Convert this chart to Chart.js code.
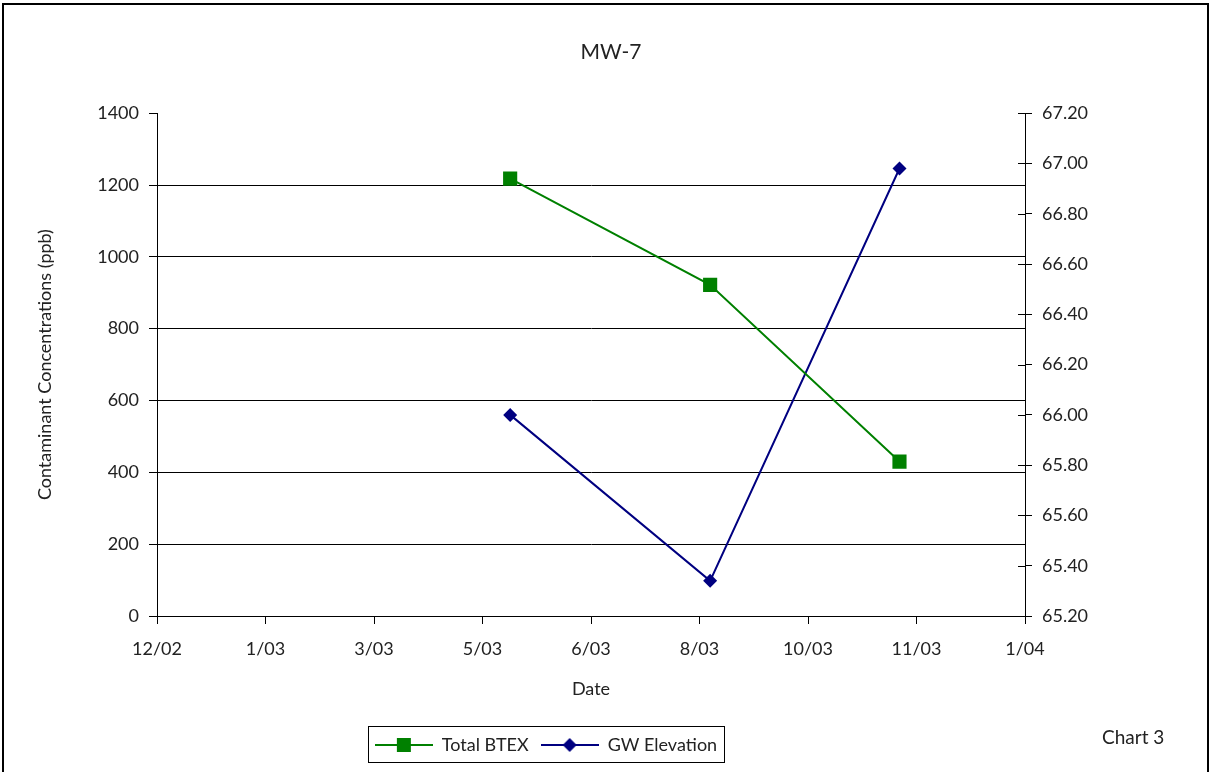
<!DOCTYPE html>
<html>
<head>
<meta charset="utf-8">
<script src="https://cdn.jsdelivr.net/npm/chart.js@4.4.1/dist/chart.umd.min.js"></script>
<style>
  html, body { margin: 0; padding: 0; background: #fff; }
</style>
</head>
<body>
<canvas id="mw7Chart" width="1212" height="772"></canvas>
<script>
// x axis: days counted from the first tick (12/02), one tick every 51 days
const xTickLabels = ["12/02", "1/03", "3/03", "5/03", "6/03", "8/03", "10/03", "11/03", "1/04"];
const tickStepDays = 51;
const sampleDays = [166, 260, 349];
const totalBtex = [1218, 922, 430];
const gwElevation = [66.00, 65.34, 66.98];

Chart.defaults.font.family = 'Lato, "DejaVu Sans", sans-serif';
Chart.defaults.color = '#222';

const green = '#008000';
const navy = '#000080';

// little line+marker pictures for the legend
const makeSwatch = (color, shape) => {
  const c = document.createElement('canvas');
  c.width = 58; c.height = 16;
  const g = c.getContext('2d');
  g.strokeStyle = color; g.fillStyle = color; g.lineWidth = 2;
  g.beginPath(); g.moveTo(0, 8); g.lineTo(58, 8); g.stroke();
  g.beginPath();
  if (shape === 'square') {
    g.rect(22, 1, 14, 14);
  } else {
    g.moveTo(29, 1); g.lineTo(36, 8); g.lineTo(29, 15); g.lineTo(22, 8); g.closePath();
  }
  g.fill();
  return c;
};
const swatches = [makeSwatch(green, 'square'), makeSwatch(navy, 'diamond')];

const extras = {
  id: 'extras',
  afterLayout(chart) {
    // move the legend and title a bit left, where the original ones are
    const lg = chart.legend;
    lg.left -= 75; lg.right -= 75;
    const tb = chart.titleBlock;
    tb.left -= 10; tb.right -= 10;
  },
  afterDraw(chart) {
    const ctx = chart.ctx;
    const y1 = chart.scales.y1;
    ctx.save();
    // inner half of the right axis tick marks
    ctx.strokeStyle = '#000';
    ctx.lineWidth = 1;
    y1.ticks.forEach(t => {
      const py = Math.round(y1.getPixelForValue(t.value)) + 0.5;
      ctx.beginPath(); ctx.moveTo(y1.left - 7, py); ctx.lineTo(y1.left, py); ctx.stroke();
    });
    // legend frame
    const lg = chart.legend;
    const pad = lg.options.labels.padding;
    const w = lg.lineWidths[0];
    const x0 = (lg.left + pad + lg.right - w) / 2 - 7;
    ctx.strokeRect(Math.round(x0) + 0.5, 726.5, Math.round(w - pad + 14), 36);
    // chart note
    ctx.fillStyle = '#222';
    ctx.font = '19px Lato, "DejaVu Sans", sans-serif';
    ctx.textAlign = 'left';
    ctx.textBaseline = 'middle';
    ctx.fillText('Chart 3', 1102, 738);
    // outer frame
    ctx.lineWidth = 2;
    ctx.strokeRect(3, 4, 1205, 772);
    ctx.restore();
  }
};

new Chart(document.getElementById('mw7Chart'), {
  type: 'line',
  data: {
    datasets: [{
      label: 'Total BTEX',
      data: sampleDays.map((d, i) => ({ x: d, y: totalBtex[i] })),
      borderColor: green,
      backgroundColor: green,
      borderWidth: 2,
      pointStyle: 'rect',
      pointRadius: 10,
      pointBorderWidth: 0,
      yAxisID: 'y'
    }, {
      label: 'GW Elevation',
      data: sampleDays.map((d, i) => ({ x: d, y: gwElevation[i] })),
      borderColor: navy,
      backgroundColor: navy,
      borderWidth: 2,
      pointStyle: 'rectRot',
      pointRadius: 7,
      pointBorderWidth: 0,
      yAxisID: 'y1'
    }]
  },
  options: {
    responsive: false,
    animation: false,
    layout: { padding: { left: 30, right: 0, top: 0, bottom: 8 } },
    scales: {
      x: {
        type: 'linear',
        min: 0,
        max: tickStepDays * (xTickLabels.length - 1),
        afterBuildTicks: (axis) => {
          axis.ticks = xTickLabels.map((_, i) => ({ value: i * tickStepDays }));
        },
        ticks: {
          font: { size: 18 },
          padding: 14,
          maxRotation: 0,
          callback: (v) => xTickLabels[Math.round(v / tickStepDays)]
        },
        grid: { drawOnChartArea: false, tickLength: 8, color: '#000' },
        border: { color: '#000', width: 1 },
        title: { display: true, text: 'Date', font: { size: 18 }, padding: { top: 8, bottom: 24 } },
        afterFit: (axis) => { axis.height = 108; }
      },
      y: {
        position: 'left',
        min: 0,
        max: 1400,
        ticks: { stepSize: 200, font: { size: 18 }, padding: 10, callback: (v) => String(v) },
        grid: {
          color: (c) => (c.tick && c.tick.value === 1400) ? 'rgba(0,0,0,0)' : '#000',
          tickColor: '#000',
          tickLength: 8
        },
        border: { color: '#000', width: 1 },
        title: { display: true, text: 'Contaminant Concentrations (ppb)', font: { size: 18 } },
        afterFit: (axis) => { axis.width = 127; }
      },
      y1: {
        position: 'right',
        min: 65.2,
        max: 67.2,
        ticks: { stepSize: 0.2, font: { size: 18 }, padding: 10, callback: (v) => v.toFixed(2) },
        grid: { drawOnChartArea: false, tickLength: 7, color: '#000' },
        border: { color: '#000', width: 1 },
        afterFit: (axis) => { axis.width = 187; }
      }
    },
    plugins: {
      title: {
        display: true,
        text: 'MW-7',
        font: { size: 21, weight: 'normal' },
        color: '#222',
        padding: { top: 40, bottom: 48 }
      },
      legend: {
        position: 'bottom',
        labels: {
          font: { size: 18 },
          color: '#222',
          usePointStyle: true,
          pointStyleWidth: 58,
          padding: 12,
          generateLabels: (chart) => {
            const items = Chart.defaults.plugins.legend.labels.generateLabels(chart);
            items.forEach((it, i) => { it.pointStyle = swatches[i]; });
            return items;
          }
        }
      },
      tooltip: { enabled: false }
    }
  },
  plugins: [extras]
});
</script>
</body>
</html>
